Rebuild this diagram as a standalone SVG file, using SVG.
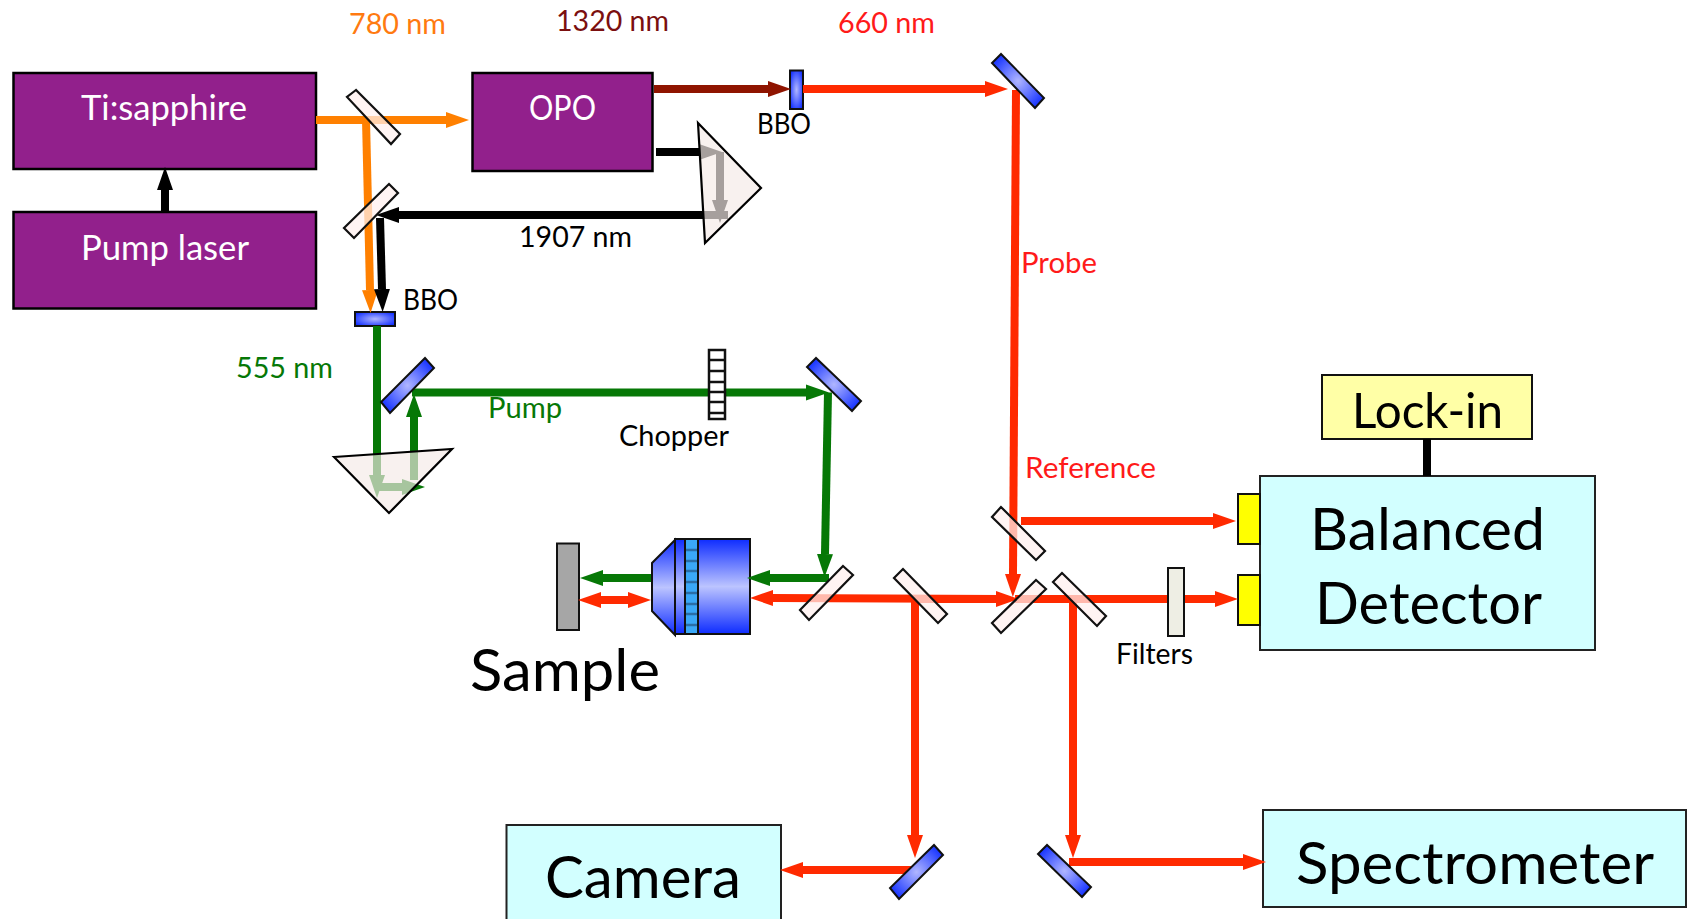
<svg xmlns="http://www.w3.org/2000/svg" width="1693" height="919" viewBox="0 0 1693 919">
<style>
text{font-family:Lato,"Liberation Sans",sans-serif;text-anchor:start}
.purple{fill:#92208c;stroke:#000;stroke-width:2.5}
.cyan{fill:#d2ffff;stroke:#222;stroke-width:2}
.wt{fill:#fff;font-size:34px}
.big{fill:#000;font-size:59px}
.sm{fill:#000;font-size:29.5px}
.b{fill:none;stroke-width:8}
.or{stroke:#ff8000}.rd{stroke:#ff2a00}.gr{stroke:#067806}.bk{stroke:#000}.dr{stroke:#8f1400}
.beam-or{marker-end:url(#aor)}.beam-rd{marker-end:url(#ard)}.beam-gr{marker-end:url(#agr)}.beam-bk{marker-end:url(#abk)}.beam-dr{marker-end:url(#adr)}
.lm{fill:#fff0ee;fill-opacity:.72;stroke:#111;stroke-width:2.2}
.bm{fill:url(#mg);stroke:#111;stroke-width:2}
.pr{fill:#f5ebe8;fill-opacity:.68;stroke:#000;stroke-width:2.2}
</style>
<defs>
<radialGradient id="mg" cx=".5" cy=".5" r=".62"><stop offset="0" stop-color="#b0b6ff"/><stop offset="1" stop-color="#0e2cff"/></radialGradient>
<linearGradient id="og" x1="0" y1="0" x2="0" y2="1"><stop offset="0" stop-color="#0e2cff"/><stop offset=".5" stop-color="#bcc4ff"/><stop offset="1" stop-color="#0e2cff"/></linearGradient>
<marker id="aor" markerUnits="userSpaceOnUse" markerWidth="24" markerHeight="18" refX="0" refY="9" orient="auto"><path d="M0 1L23 9L0 17Z" fill="#ff8000"/></marker>
<marker id="ard" markerUnits="userSpaceOnUse" markerWidth="24" markerHeight="18" refX="0" refY="9" orient="auto-start-reverse"><path d="M0 1L23 9L0 17Z" fill="#ff2a00"/></marker>
<marker id="agr" markerUnits="userSpaceOnUse" markerWidth="24" markerHeight="18" refX="0" refY="9" orient="auto"><path d="M0 1L23 9L0 17Z" fill="#067806"/></marker>
<marker id="abk" markerUnits="userSpaceOnUse" markerWidth="24" markerHeight="18" refX="0" refY="9" orient="auto"><path d="M0 1L23 9L0 17Z" fill="#000"/></marker>
<marker id="adr" markerUnits="userSpaceOnUse" markerWidth="24" markerHeight="18" refX="0" refY="9" orient="auto"><path d="M0 1L23 9L0 17Z" fill="#8f1400"/></marker>
</defs>

<rect width="1693" height="919" fill="#fff"/>

<g id="ti-sapphire"><rect class="purple" x="13.5" y="73" width="302.5" height="96"/><text class="wt" x="81" y="120" textLength="166" lengthAdjust="spacingAndGlyphs">Ti:sapphire</text></g>
<g id="pump-laser"><rect class="purple" x="13.5" y="212" width="302.5" height="96.5"/><text class="wt" x="81" y="260" textLength="168" lengthAdjust="spacingAndGlyphs">Pump laser</text></g>
<g id="opo"><rect class="purple" x="472.5" y="73" width="180" height="98"/><text class="wt" x="529" y="120" textLength="67" lengthAdjust="spacingAndGlyphs">OPO</text></g>
<g id="bbo-1"><rect class="bm" x="790" y="70.5" width="13" height="38.5"/><text class="sm" x="757" y="134" textLength="54" lengthAdjust="spacingAndGlyphs">BBO</text></g>
<g id="bbo-2"><rect class="bm" x="355" y="312" width="40" height="14"/><text class="sm" x="403" y="310" textLength="55" lengthAdjust="spacingAndGlyphs">BBO</text></g>
<g id="lock-in"><rect x="1322" y="375" width="210" height="64" fill="#ffffa6" stroke="#111" stroke-width="2"/><text x="1352" y="428" font-size="49" textLength="151" lengthAdjust="spacingAndGlyphs">Lock-in</text></g>
<g id="balanced-detector">
<rect class="cyan" x="1260" y="476" width="335" height="174"/>
<rect x="1238" y="494" width="22" height="50" fill="#ffff00" stroke="#111" stroke-width="2"/>
<rect x="1238" y="575" width="22" height="50" fill="#ffff00" stroke="#111" stroke-width="2"/>
<text class="big" x="1310" y="550" textLength="235" lengthAdjust="spacingAndGlyphs">Balanced</text>
<text class="big" x="1315" y="624" textLength="227" lengthAdjust="spacingAndGlyphs">Detector</text></g>
<g id="camera"><rect class="cyan" x="506.5" y="825" width="274.5" height="110"/><text class="big" x="545" y="898" textLength="196" lengthAdjust="spacingAndGlyphs">Camera</text></g>
<g id="spectrometer"><rect class="cyan" x="1263" y="810" width="423" height="97"/><text class="big" x="1296" y="884" textLength="358" lengthAdjust="spacingAndGlyphs">Spectrometer</text></g>
<g id="sample"><rect x="557" y="543.5" width="22" height="86.5" fill="#a6a6a6" stroke="#111" stroke-width="2"/><text class="big" x="470" y="691" textLength="190" lengthAdjust="spacingAndGlyphs">Sample</text></g>
<g id="objective">
<polygon points="652,563 675,540 675,635 652,611" fill="url(#og)" stroke="#111" stroke-width="2"/>
<rect x="675" y="539" width="75" height="95" fill="url(#og)" stroke="#111" stroke-width="2"/>
<rect x="685" y="539" width="13" height="95" fill="#3aa8f8" stroke="#111" stroke-width="2"/>
<path d="M686 550H697M686 561H697M686 571H697M686 582H697M686 593H697M686 604H697M686 614H697M686 625H697" stroke="#2a6ea8" stroke-width="2.5"/></g>

<g id="connectors">
<line class="b bk beam-bk" x1="165" y1="211" x2="165" y2="190"/>
<line class="b or beam-or" x1="316" y1="120" x2="446" y2="120"/>
<line class="b or beam-or" x1="366" y1="120" x2="370" y2="290"/>
<line class="b dr beam-dr" x1="654" y1="89" x2="768" y2="89"/>
<line class="b rd beam-rd" x1="803" y1="89" x2="985" y2="89"/>
<line class="b bk beam-bk" x1="656" y1="152" x2="699" y2="152"/>
<line class="b bk beam-bk" x1="720" y1="152" x2="720" y2="200"/>
<line class="b bk beam-bk" x1="728" y1="215" x2="399" y2="215"/>
<line class="b bk beam-bk" x1="380" y1="218" x2="382" y2="289"/>
<line class="b gr beam-gr" x1="377" y1="326" x2="377" y2="475"/>
<line class="b gr beam-gr" x1="377" y1="487" x2="402" y2="487"/>
<line class="b gr beam-gr" x1="414" y1="480" x2="414" y2="417"/>
<line class="b gr beam-gr" x1="412" y1="392.5" x2="806" y2="392.5"/>
<line class="b gr beam-gr" x1="828" y1="392.5" x2="825" y2="554"/>
<line class="b gr beam-gr" x1="829" y1="578" x2="770" y2="578"/>
<line class="b gr beam-gr" x1="651" y1="578" x2="603" y2="578"/>
<line class="b rd beam-rd" x1="1016" y1="90" x2="1013" y2="574"/>
<line class="b rd beam-rd" x1="1021" y1="521" x2="1213" y2="521"/>
<line class="b rd beam-rd" x1="1002" y1="599" x2="773" y2="598"/>
<line class="b rd beam-rd" x1="915" y1="599" x2="996" y2="599"/>
<line class="b rd beam-rd" x1="1015" y1="599" x2="1215" y2="599"/>
<line class="b rd beam-rd" x1="915" y1="599" x2="915" y2="835"/>
<line class="b rd beam-rd" x1="1073" y1="599" x2="1073" y2="835"/>
<line class="b rd beam-rd" x1="913" y1="870" x2="803" y2="870"/>
<line class="b rd beam-rd" x1="1069" y1="862" x2="1243" y2="862"/>
<line class="b rd" x1="601" y1="600" x2="628" y2="600" style="marker-start:url(#ard);marker-end:url(#ard)"/>
</g>

<g id="splitter-1"><polygon class="lm" points="356,90 347,97 391,144 400,134"/></g>
<g id="splitter-2"><polygon class="lm" points="389,184 398,193 354,238 344,228"/></g>
<g id="splitter-3"><polygon class="lm" points="843,566 853,575 809,620 800,610"/></g>
<g id="splitter-4"><polygon class="lm" points="903,569 894,578 938,623 947,614"/></g>
<g id="splitter-5"><polygon class="lm" points="1001,507 992,517 1036,560 1045,551"/></g>
<g id="splitter-6"><polygon class="lm" points="1036,580 1046,589 1001,633 992,623"/></g>
<g id="splitter-7"><polygon class="lm" points="1062,573 1053,582 1097,626 1106,616"/></g>
<g id="mirror-1"><polygon class="bm" points="1001,54 992,63 1035,108 1044,98"/></g>
<g id="mirror-2"><polygon class="bm" points="425,358 434,368 390,413 381,402"/></g>
<g id="mirror-3"><polygon class="bm" points="816,358 807,367 852,411 861,401"/></g>
<g id="mirror-4"><polygon class="bm" points="934,845 943,855 899,899 890,888"/></g>
<g id="mirror-5"><polygon class="bm" points="1047,845 1038,854 1082,897 1091,887"/></g>
<g id="prism-1"><polygon class="pr" points="698,123 761,188 705,243"/></g>
<g id="prism-2"><polygon class="pr" points="334,457 452,449 389,513"/></g>
<g id="chopper"><rect x="709" y="350" width="16" height="69" fill="#fff" stroke="#111" stroke-width="2.5"/><path d="M709 360H725M709 371H725M709 382H725M709 392H725M709 402H725M709 413H725" stroke="#111" stroke-width="2.5"/><text class="sm" x="619" y="446" textLength="110" lengthAdjust="spacingAndGlyphs">Chopper</text></g>
<g id="filters"><rect x="1168" y="568" width="16" height="68" fill="#eeeee4" stroke="#111" stroke-width="2"/><text class="sm" x="1116" y="664" textLength="77" lengthAdjust="spacingAndGlyphs">Filters</text></g>
<rect x="1423" y="439" width="8" height="37" fill="#000"/>

<text class="sm" x="349" y="34" style="fill:#ff7a10" textLength="97" lengthAdjust="spacingAndGlyphs">780 nm</text>
<text class="sm" x="556" y="31" style="fill:#7b0f0f" textLength="113" lengthAdjust="spacingAndGlyphs">1320 nm</text>
<text class="sm" x="838" y="33" style="fill:#ff1a1a" textLength="97" lengthAdjust="spacingAndGlyphs">660 nm</text>
<text class="sm" x="519" y="247" textLength="113" lengthAdjust="spacingAndGlyphs">1907 nm</text>
<text class="sm" x="236" y="378" style="fill:#067806" textLength="97" lengthAdjust="spacingAndGlyphs">555 nm</text>
<text class="sm" x="488" y="418" style="fill:#067806" textLength="74" lengthAdjust="spacingAndGlyphs">Pump</text>
<text class="sm" x="1021" y="273" style="fill:#ff1a1a" textLength="76" lengthAdjust="spacingAndGlyphs">Probe</text>
<text class="sm" x="1025" y="478" style="fill:#ff1a1a" textLength="131" lengthAdjust="spacingAndGlyphs">Reference</text>
</svg>
